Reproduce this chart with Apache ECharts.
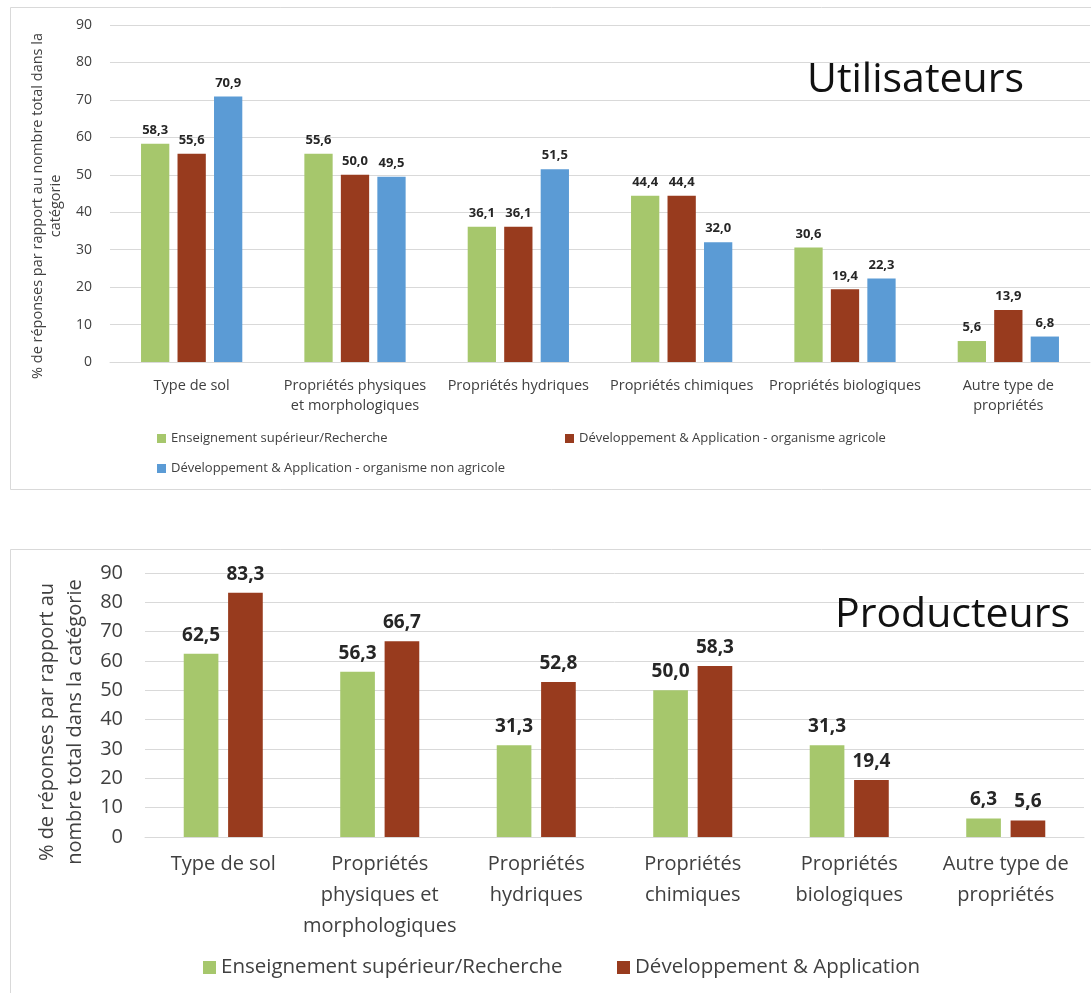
<!DOCTYPE html>
<html>
<head>
<meta charset="utf-8">
<script src="https://cdn.jsdelivr.net/npm/echarts@6/dist/echarts.min.js"></script>
<style>
html,body{margin:0;padding:0;background:#fff;}
#c{width:1091px;height:993px;}
</style>
</head>
<body>
<div id="c"></div>
<script>
// ---- data ----
var catsTop = ['Type de sol', 'Propriétés physiques\net morphologiques', 'Propriétés hydriques', 'Propriétés chimiques', 'Propriétés biologiques', 'Autre type de\npropriétés'];
var catsBottom = ['Type de sol', 'Propriétés\nphysiques et\nmorphologiques', 'Propriétés\nhydriques', 'Propriétés\nchimiques', 'Propriétés\nbiologiques', 'Autre type de\npropriétés'];
var seriesNamesTop = ['Enseignement supérieur/Recherche', 'Développement & Application - organisme agricole', 'Développement & Application - organisme non agricole'];
var seriesNamesBottom = ['Enseignement supérieur/Recherche', 'Développement & Application'];
var topEnseignement = [58.3, 55.6, 36.1, 44.4, 30.6, 5.6];
var topAgricole = [55.6, 50.0, 36.1, 44.4, 19.4, 13.9];
var topNonAgricole = [70.9, 49.5, 51.5, 32.0, 22.3, 6.8];
var botEnseignement = [62.5, 56.3, 31.3, 50.0, 31.3, 6.3];
var botDeveloppement = [83.3, 66.7, 52.8, 58.3, 19.4, 5.6];
var yTicks = {min: 0, max: 90, interval: 10};
var titleTop = 'Utilisateurs';
var titleBottom = 'Producteurs';
var yNameTop = '% de réponses par rapport au nombre total dans la\ncatégorie';
var yNameBottom = '% de réponses par rapport au\nnombre total dans la catégorie';

// ---- styles ----
var GREEN = '#A6C76C', RED = '#983B1E', BLUE = '#5B9BD5';
var FONT = 'Open Sans';
var TXT = '#404040';
function fmt(p){ return p.value.toFixed(1).replace('.', ','); }

function barSeries(name, data, color, axis, small){
  return {
    name: name, type: 'bar', data: data,
    xAxisIndex: axis, yAxisIndex: axis,
    itemStyle: {color: color},
    barGap: small ? '29%' : '28%',
    barCategoryGap: small ? '38%' : '49.5%',
    label: {
      show: true, position: 'top', distance: small ? 7 : 9,
      formatter: fmt,
      fontFamily: FONT, fontWeight: 'bold',
      fontSize: small ? 13 : 19, color: '#262626'
    }
  };
}

function legend(name, left, top, fs, sz){
  return {
    data: [name], left: left, top: top, padding: 0,
    icon: 'rect', itemWidth: sz, itemHeight: sz,
    textStyle: {fontFamily: FONT, fontSize: fs, color: TXT}
  };
}

var chart = echarts.init(document.getElementById('c'), null, {renderer: 'canvas'});
var option = {
  animation: false,
  backgroundColor: '#ffffff',
  textStyle: {fontFamily: FONT},
  graphic: [
    {type: 'rect', shape: {x: 10.5, y: 7.5, width: 1100, height: 482}, style: {fill: 'none', stroke: '#d9d9d9', lineWidth: 1}, z: -1},
    {type: 'rect', shape: {x: 10.5, y: 549.5, width: 1100, height: 500}, style: {fill: 'none', stroke: '#d9d9d9', lineWidth: 1}, z: -1}
  ],
  title: [
    {text: titleTop, left: 807, top: 60, padding: 0, textStyle: {fontFamily: FONT, fontSize: 41, lineHeight: 41, fontWeight: 'normal', color: '#111'}},
    {text: titleBottom, left: 835, top: 594.5, padding: 0, textStyle: {fontFamily: FONT, fontSize: 41, lineHeight: 41, fontWeight: 'normal', color: '#111'}}
  ],
  legend: [
    legend(seriesNamesTop[0], 157, 432, 13, 9),
    legend(seriesNamesTop[1], 565, 432, 13, 9),
    legend(seriesNamesTop[2], 157, 462, 13, 9),
    legend(seriesNamesBottom[0], 203, 957, 20.5, 13),
    legend(seriesNamesBottom[1], 617, 957, 20.5, 13)
  ],
  grid: [
    {left: 110, right: 1, top: 25, height: 337},
    {left: 145, right: 7, top: 573, height: 264}
  ],
  xAxis: [
    {type: 'category', gridIndex: 0, data: catsTop,
     axisLine: {lineStyle: {color: '#d9d9d9'}}, axisTick: {show: false},
     axisLabel: {interval: 0, margin: 14, fontFamily: FONT, fontSize: 14.5, lineHeight: 20, color: TXT}},
    {type: 'category', gridIndex: 1, data: catsBottom,
     axisLine: {lineStyle: {color: '#d9d9d9'}}, axisTick: {show: false},
     axisLabel: {interval: 0, margin: 12, fontFamily: FONT, fontSize: 20, lineHeight: 31, color: TXT}}
  ],
  yAxis: [
    {type: 'value', gridIndex: 0, min: yTicks.min, max: yTicks.max, interval: yTicks.interval,
     axisLine: {show: false}, axisTick: {show: false},
     splitLine: {lineStyle: {color: '#d9d9d9'}},
     axisLabel: {margin: 18, fontFamily: FONT, fontSize: 14, color: TXT},
     name: yNameTop, nameLocation: 'middle', nameRotate: 90, nameGap: 38,
     nameTextStyle: {fontFamily: FONT, fontSize: 14.5, lineHeight: 18, color: TXT, padding: [0, 25, 0, 0]}},
    {type: 'value', gridIndex: 1, min: yTicks.min, max: yTicks.max, interval: yTicks.interval,
     axisLine: {show: false}, axisTick: {show: false},
     splitLine: {lineStyle: {color: '#d9d9d9'}},
     axisLabel: {margin: 22, fontFamily: FONT, fontSize: 20, color: TXT},
     name: yNameBottom, nameLocation: 'middle', nameRotate: 90, nameGap: 52,
     nameTextStyle: {fontFamily: FONT, fontSize: 20, lineHeight: 28, color: TXT, padding: [0, 34, 0, 0]}}
  ],
  series: [
    barSeries(seriesNamesTop[0], topEnseignement, GREEN, 0, true),
    barSeries(seriesNamesTop[1], topAgricole, RED, 0, true),
    barSeries(seriesNamesTop[2], topNonAgricole, BLUE, 0, true),
    barSeries(seriesNamesBottom[0], botEnseignement, GREEN, 1, false),
    barSeries(seriesNamesBottom[1], botDeveloppement, RED, 1, false)
  ]
};
chart.setOption(option);
</script>
</body>
</html>
